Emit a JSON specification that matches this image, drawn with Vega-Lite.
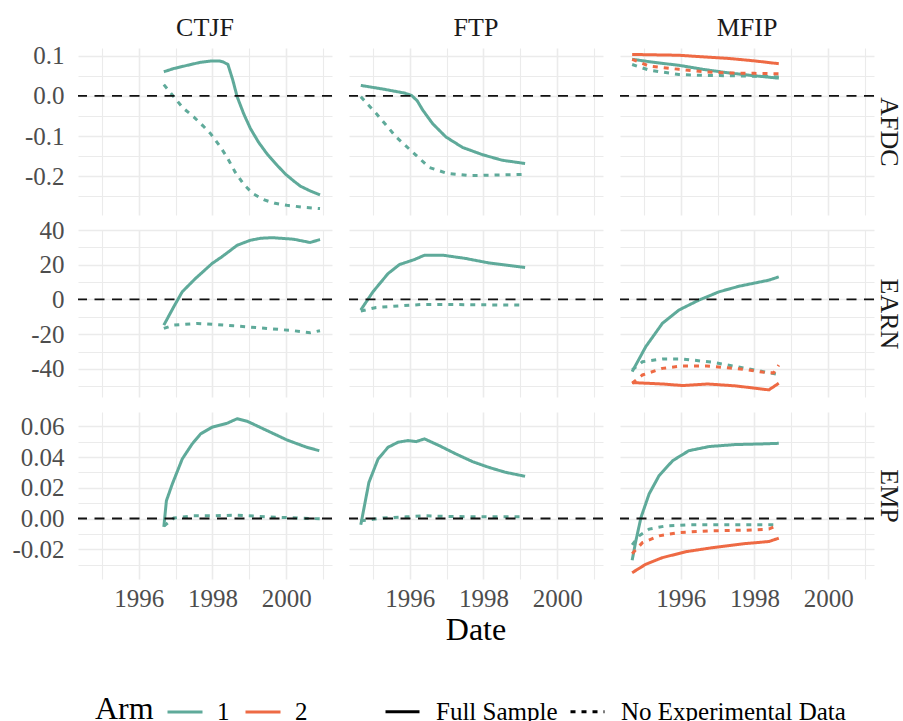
{
  "$schema": "https://vega.github.io/schema/vega-lite/v6.json",
  "padding": {"left": 11, "top": 15, "right": 0, "bottom": 0},
  "background": "#ffffff",
  "spacing": 3,
  "config": {
    "font": "Liberation Serif",
    "locale": {"number": {"decimal": ".", "thousands": ",", "grouping": [3], "currency": ["$", ""], "minus": "-"}},
    "view": {"stroke": null},
    "axis": {
      "grid": true,
      "gridColor": "#ebebeb",
      "domain": false,
      "ticks": false,
      "labelFont": "Liberation Serif",
      "labelFontSize": 25,
      "labelColor": "#4d4d4d",
      "labelOverlap": false,
      "labelFlush": false,
      "titleFont": "Liberation Serif",
      "titleFontSize": 32,
      "titleFontWeight": "normal",
      "titleColor": "#000000"
    },
    "header": {
      "labelFont": "Liberation Serif",
      "labelFontSize": 26,
      "labelColor": "#1a1a1a",
      "titleFont": "Liberation Serif",
      "titleFontSize": 32,
      "titleFontWeight": "normal",
      "titleColor": "#000000"
    },
    "legend": {
      "labelFont": "Liberation Serif",
      "labelFontSize": 25,
      "labelColor": "#000000",
      "labelLimit": 400,
      "titleFont": "Liberation Serif",
      "titleFontSize": 32,
      "titleFontWeight": "normal",
      "titleColor": "#000000"
    }
  },
  "datasets": {
    "series": [
      {"program": "CTJF", "measure": "AFDC", "arm": "1", "sample": "Full Sample", "date": 1996.68, "value": 0.060},
      {"program": "CTJF", "measure": "AFDC", "arm": "1", "sample": "Full Sample", "date": 1996.95, "value": 0.068},
      {"program": "CTJF", "measure": "AFDC", "arm": "1", "sample": "Full Sample", "date": 1997.32, "value": 0.076},
      {"program": "CTJF", "measure": "AFDC", "arm": "1", "sample": "Full Sample", "date": 1997.65, "value": 0.083},
      {"program": "CTJF", "measure": "AFDC", "arm": "1", "sample": "Full Sample", "date": 1997.99, "value": 0.087},
      {"program": "CTJF", "measure": "AFDC", "arm": "1", "sample": "Full Sample", "date": 1998.17, "value": 0.087},
      {"program": "CTJF", "measure": "AFDC", "arm": "1", "sample": "Full Sample", "date": 1998.30, "value": 0.084},
      {"program": "CTJF", "measure": "AFDC", "arm": "1", "sample": "Full Sample", "date": 1998.42, "value": 0.078},
      {"program": "CTJF", "measure": "AFDC", "arm": "1", "sample": "Full Sample", "date": 1998.55, "value": 0.040},
      {"program": "CTJF", "measure": "AFDC", "arm": "1", "sample": "Full Sample", "date": 1998.67, "value": -0.002},
      {"program": "CTJF", "measure": "AFDC", "arm": "1", "sample": "Full Sample", "date": 1998.85, "value": -0.045},
      {"program": "CTJF", "measure": "AFDC", "arm": "1", "sample": "Full Sample", "date": 1999.03, "value": -0.081},
      {"program": "CTJF", "measure": "AFDC", "arm": "1", "sample": "Full Sample", "date": 1999.25, "value": -0.115},
      {"program": "CTJF", "measure": "AFDC", "arm": "1", "sample": "Full Sample", "date": 1999.48, "value": -0.144},
      {"program": "CTJF", "measure": "AFDC", "arm": "1", "sample": "Full Sample", "date": 1999.75, "value": -0.172},
      {"program": "CTJF", "measure": "AFDC", "arm": "1", "sample": "Full Sample", "date": 1999.99, "value": -0.195},
      {"program": "CTJF", "measure": "AFDC", "arm": "1", "sample": "Full Sample", "date": 2000.20, "value": -0.211},
      {"program": "CTJF", "measure": "AFDC", "arm": "1", "sample": "Full Sample", "date": 2000.38, "value": -0.224},
      {"program": "CTJF", "measure": "AFDC", "arm": "1", "sample": "Full Sample", "date": 2000.65, "value": -0.236},
      {"program": "CTJF", "measure": "AFDC", "arm": "1", "sample": "Full Sample", "date": 2000.92, "value": -0.246},

      {"program": "CTJF", "measure": "AFDC", "arm": "1", "sample": "No Experimental Data", "date": 1996.68, "value": 0.028},
      {"program": "CTJF", "measure": "AFDC", "arm": "1", "sample": "No Experimental Data", "date": 1996.95, "value": -0.002},
      {"program": "CTJF", "measure": "AFDC", "arm": "1", "sample": "No Experimental Data", "date": 1997.20, "value": -0.030},
      {"program": "CTJF", "measure": "AFDC", "arm": "1", "sample": "No Experimental Data", "date": 1997.49, "value": -0.052},
      {"program": "CTJF", "measure": "AFDC", "arm": "1", "sample": "No Experimental Data", "date": 1997.75, "value": -0.075},
      {"program": "CTJF", "measure": "AFDC", "arm": "1", "sample": "No Experimental Data", "date": 1997.95, "value": -0.094},
      {"program": "CTJF", "measure": "AFDC", "arm": "1", "sample": "No Experimental Data", "date": 1998.20, "value": -0.125},
      {"program": "CTJF", "measure": "AFDC", "arm": "1", "sample": "No Experimental Data", "date": 1998.40, "value": -0.153},
      {"program": "CTJF", "measure": "AFDC", "arm": "1", "sample": "No Experimental Data", "date": 1998.62, "value": -0.190},
      {"program": "CTJF", "measure": "AFDC", "arm": "1", "sample": "No Experimental Data", "date": 1998.85, "value": -0.220},
      {"program": "CTJF", "measure": "AFDC", "arm": "1", "sample": "No Experimental Data", "date": 1999.10, "value": -0.243},
      {"program": "CTJF", "measure": "AFDC", "arm": "1", "sample": "No Experimental Data", "date": 1999.39, "value": -0.258},
      {"program": "CTJF", "measure": "AFDC", "arm": "1", "sample": "No Experimental Data", "date": 1999.70, "value": -0.267},
      {"program": "CTJF", "measure": "AFDC", "arm": "1", "sample": "No Experimental Data", "date": 2000.02, "value": -0.272},
      {"program": "CTJF", "measure": "AFDC", "arm": "1", "sample": "No Experimental Data", "date": 2000.50, "value": -0.277},
      {"program": "CTJF", "measure": "AFDC", "arm": "1", "sample": "No Experimental Data", "date": 2000.92, "value": -0.280},

      {"program": "FTP", "measure": "AFDC", "arm": "1", "sample": "Full Sample", "date": 1994.67, "value": 0.026},
      {"program": "FTP", "measure": "AFDC", "arm": "1", "sample": "Full Sample", "date": 1995.27, "value": 0.017},
      {"program": "FTP", "measure": "AFDC", "arm": "1", "sample": "Full Sample", "date": 1995.86, "value": 0.007},
      {"program": "FTP", "measure": "AFDC", "arm": "1", "sample": "Full Sample", "date": 1996.05, "value": 0.001},
      {"program": "FTP", "measure": "AFDC", "arm": "1", "sample": "Full Sample", "date": 1996.20, "value": -0.012},
      {"program": "FTP", "measure": "AFDC", "arm": "1", "sample": "Full Sample", "date": 1996.35, "value": -0.035},
      {"program": "FTP", "measure": "AFDC", "arm": "1", "sample": "Full Sample", "date": 1996.62, "value": -0.069},
      {"program": "FTP", "measure": "AFDC", "arm": "1", "sample": "Full Sample", "date": 1996.98, "value": -0.102},
      {"program": "FTP", "measure": "AFDC", "arm": "1", "sample": "Full Sample", "date": 1997.43, "value": -0.128},
      {"program": "FTP", "measure": "AFDC", "arm": "1", "sample": "Full Sample", "date": 1997.97, "value": -0.146},
      {"program": "FTP", "measure": "AFDC", "arm": "1", "sample": "Full Sample", "date": 1998.51, "value": -0.160},
      {"program": "FTP", "measure": "AFDC", "arm": "1", "sample": "Full Sample", "date": 1999.13, "value": -0.168},

      {"program": "FTP", "measure": "AFDC", "arm": "1", "sample": "No Experimental Data", "date": 1994.67, "value": -0.002},
      {"program": "FTP", "measure": "AFDC", "arm": "1", "sample": "No Experimental Data", "date": 1995.09, "value": -0.044},
      {"program": "FTP", "measure": "AFDC", "arm": "1", "sample": "No Experimental Data", "date": 1995.63, "value": -0.102},
      {"program": "FTP", "measure": "AFDC", "arm": "1", "sample": "No Experimental Data", "date": 1996.08, "value": -0.140},
      {"program": "FTP", "measure": "AFDC", "arm": "1", "sample": "No Experimental Data", "date": 1996.53, "value": -0.178},
      {"program": "FTP", "measure": "AFDC", "arm": "1", "sample": "No Experimental Data", "date": 1997.03, "value": -0.193},
      {"program": "FTP", "measure": "AFDC", "arm": "1", "sample": "No Experimental Data", "date": 1997.61, "value": -0.198},
      {"program": "FTP", "measure": "AFDC", "arm": "1", "sample": "No Experimental Data", "date": 1998.24, "value": -0.197},
      {"program": "FTP", "measure": "AFDC", "arm": "1", "sample": "No Experimental Data", "date": 1999.13, "value": -0.195},

      {"program": "MFIP", "measure": "AFDC", "arm": "1", "sample": "Full Sample", "date": 1994.68, "value": 0.091},
      {"program": "MFIP", "measure": "AFDC", "arm": "1", "sample": "Full Sample", "date": 1995.30, "value": 0.083},
      {"program": "MFIP", "measure": "AFDC", "arm": "1", "sample": "Full Sample", "date": 1995.95, "value": 0.076},
      {"program": "MFIP", "measure": "AFDC", "arm": "1", "sample": "Full Sample", "date": 1996.60, "value": 0.066},
      {"program": "MFIP", "measure": "AFDC", "arm": "1", "sample": "Full Sample", "date": 1997.31, "value": 0.057},
      {"program": "MFIP", "measure": "AFDC", "arm": "1", "sample": "Full Sample", "date": 1998.00, "value": 0.050},
      {"program": "MFIP", "measure": "AFDC", "arm": "1", "sample": "Full Sample", "date": 1998.66, "value": 0.044},
      {"program": "MFIP", "measure": "AFDC", "arm": "1", "sample": "No Experimental Data", "date": 1994.68, "value": 0.078},
      {"program": "MFIP", "measure": "AFDC", "arm": "1", "sample": "No Experimental Data", "date": 1995.14, "value": 0.064},
      {"program": "MFIP", "measure": "AFDC", "arm": "1", "sample": "No Experimental Data", "date": 1995.95, "value": 0.053},
      {"program": "MFIP", "measure": "AFDC", "arm": "1", "sample": "No Experimental Data", "date": 1996.60, "value": 0.051},
      {"program": "MFIP", "measure": "AFDC", "arm": "1", "sample": "No Experimental Data", "date": 1997.31, "value": 0.050},
      {"program": "MFIP", "measure": "AFDC", "arm": "1", "sample": "No Experimental Data", "date": 1998.00, "value": 0.049},
      {"program": "MFIP", "measure": "AFDC", "arm": "1", "sample": "No Experimental Data", "date": 1998.66, "value": 0.047},
      {"program": "MFIP", "measure": "AFDC", "arm": "2", "sample": "Full Sample", "date": 1994.68, "value": 0.103},
      {"program": "MFIP", "measure": "AFDC", "arm": "2", "sample": "Full Sample", "date": 1995.30, "value": 0.102},
      {"program": "MFIP", "measure": "AFDC", "arm": "2", "sample": "Full Sample", "date": 1995.95, "value": 0.101},
      {"program": "MFIP", "measure": "AFDC", "arm": "2", "sample": "Full Sample", "date": 1996.60, "value": 0.097},
      {"program": "MFIP", "measure": "AFDC", "arm": "2", "sample": "Full Sample", "date": 1997.31, "value": 0.093},
      {"program": "MFIP", "measure": "AFDC", "arm": "2", "sample": "Full Sample", "date": 1998.00, "value": 0.087},
      {"program": "MFIP", "measure": "AFDC", "arm": "2", "sample": "Full Sample", "date": 1998.66, "value": 0.080},
      {"program": "MFIP", "measure": "AFDC", "arm": "2", "sample": "No Experimental Data", "date": 1994.68, "value": 0.091},
      {"program": "MFIP", "measure": "AFDC", "arm": "2", "sample": "No Experimental Data", "date": 1995.14, "value": 0.074},
      {"program": "MFIP", "measure": "AFDC", "arm": "2", "sample": "No Experimental Data", "date": 1995.95, "value": 0.066},
      {"program": "MFIP", "measure": "AFDC", "arm": "2", "sample": "No Experimental Data", "date": 1996.60, "value": 0.060},
      {"program": "MFIP", "measure": "AFDC", "arm": "2", "sample": "No Experimental Data", "date": 1997.31, "value": 0.057},
      {"program": "MFIP", "measure": "AFDC", "arm": "2", "sample": "No Experimental Data", "date": 1998.00, "value": 0.056},
      {"program": "MFIP", "measure": "AFDC", "arm": "2", "sample": "No Experimental Data", "date": 1998.66, "value": 0.055},

      {"program": "CTJF", "measure": "EARN", "arm": "1", "sample": "Full Sample", "date": 1996.68, "value": -14.8},
      {"program": "CTJF", "measure": "EARN", "arm": "1", "sample": "Full Sample", "date": 1996.95, "value": -4.2},
      {"program": "CTJF", "measure": "EARN", "arm": "1", "sample": "Full Sample", "date": 1997.18, "value": 4.4},
      {"program": "CTJF", "measure": "EARN", "arm": "1", "sample": "Full Sample", "date": 1997.54, "value": 12.1},
      {"program": "CTJF", "measure": "EARN", "arm": "1", "sample": "Full Sample", "date": 1997.99, "value": 20.7},
      {"program": "CTJF", "measure": "EARN", "arm": "1", "sample": "Full Sample", "date": 1998.25, "value": 24.5},
      {"program": "CTJF", "measure": "EARN", "arm": "1", "sample": "Full Sample", "date": 1998.44, "value": 27.5},
      {"program": "CTJF", "measure": "EARN", "arm": "1", "sample": "Full Sample", "date": 1998.67, "value": 31.2},
      {"program": "CTJF", "measure": "EARN", "arm": "1", "sample": "Full Sample", "date": 1999.03, "value": 34.1},
      {"program": "CTJF", "measure": "EARN", "arm": "1", "sample": "Full Sample", "date": 1999.30, "value": 35.2},
      {"program": "CTJF", "measure": "EARN", "arm": "1", "sample": "Full Sample", "date": 1999.61, "value": 35.6},
      {"program": "CTJF", "measure": "EARN", "arm": "1", "sample": "Full Sample", "date": 2000.20, "value": 34.7},
      {"program": "CTJF", "measure": "EARN", "arm": "1", "sample": "Full Sample", "date": 2000.65, "value": 32.8},
      {"program": "CTJF", "measure": "EARN", "arm": "1", "sample": "Full Sample", "date": 2000.92, "value": 34.5},
      {"program": "CTJF", "measure": "EARN", "arm": "1", "sample": "No Experimental Data", "date": 1996.68, "value": -16.7},
      {"program": "CTJF", "measure": "EARN", "arm": "1", "sample": "No Experimental Data", "date": 1996.95, "value": -14.8},
      {"program": "CTJF", "measure": "EARN", "arm": "1", "sample": "No Experimental Data", "date": 1997.59, "value": -13.8},
      {"program": "CTJF", "measure": "EARN", "arm": "1", "sample": "No Experimental Data", "date": 1998.03, "value": -14.4},
      {"program": "CTJF", "measure": "EARN", "arm": "1", "sample": "No Experimental Data", "date": 1998.57, "value": -15.2},
      {"program": "CTJF", "measure": "EARN", "arm": "1", "sample": "No Experimental Data", "date": 1999.48, "value": -16.7},
      {"program": "CTJF", "measure": "EARN", "arm": "1", "sample": "No Experimental Data", "date": 2000.20, "value": -18.0},
      {"program": "CTJF", "measure": "EARN", "arm": "1", "sample": "No Experimental Data", "date": 2000.65, "value": -19.2},
      {"program": "CTJF", "measure": "EARN", "arm": "1", "sample": "No Experimental Data", "date": 2000.92, "value": -18.0},

      {"program": "FTP", "measure": "EARN", "arm": "1", "sample": "Full Sample", "date": 1994.67, "value": -6.1},
      {"program": "FTP", "measure": "EARN", "arm": "1", "sample": "Full Sample", "date": 1995.00, "value": 4.4},
      {"program": "FTP", "measure": "EARN", "arm": "1", "sample": "Full Sample", "date": 1995.41, "value": 14.9},
      {"program": "FTP", "measure": "EARN", "arm": "1", "sample": "Full Sample", "date": 1995.72, "value": 20.1},
      {"program": "FTP", "measure": "EARN", "arm": "1", "sample": "Full Sample", "date": 1996.13, "value": 23.0},
      {"program": "FTP", "measure": "EARN", "arm": "1", "sample": "Full Sample", "date": 1996.40, "value": 25.5},
      {"program": "FTP", "measure": "EARN", "arm": "1", "sample": "Full Sample", "date": 1996.89, "value": 25.5},
      {"program": "FTP", "measure": "EARN", "arm": "1", "sample": "Full Sample", "date": 1997.52, "value": 23.6},
      {"program": "FTP", "measure": "EARN", "arm": "1", "sample": "Full Sample", "date": 1998.15, "value": 21.0},
      {"program": "FTP", "measure": "EARN", "arm": "1", "sample": "Full Sample", "date": 1999.13, "value": 18.4},
      {"program": "FTP", "measure": "EARN", "arm": "1", "sample": "No Experimental Data", "date": 1994.67, "value": -6.7},
      {"program": "FTP", "measure": "EARN", "arm": "1", "sample": "No Experimental Data", "date": 1995.09, "value": -4.6},
      {"program": "FTP", "measure": "EARN", "arm": "1", "sample": "No Experimental Data", "date": 1995.72, "value": -3.7},
      {"program": "FTP", "measure": "EARN", "arm": "1", "sample": "No Experimental Data", "date": 1996.35, "value": -2.9},
      {"program": "FTP", "measure": "EARN", "arm": "1", "sample": "No Experimental Data", "date": 1997.07, "value": -2.9},
      {"program": "FTP", "measure": "EARN", "arm": "1", "sample": "No Experimental Data", "date": 1997.97, "value": -3.1},
      {"program": "FTP", "measure": "EARN", "arm": "1", "sample": "No Experimental Data", "date": 1999.13, "value": -3.3},

      {"program": "MFIP", "measure": "EARN", "arm": "1", "sample": "Full Sample", "date": 1994.68, "value": -41.6},
      {"program": "MFIP", "measure": "EARN", "arm": "1", "sample": "Full Sample", "date": 1995.05, "value": -27.2},
      {"program": "MFIP", "measure": "EARN", "arm": "1", "sample": "Full Sample", "date": 1995.50, "value": -13.8},
      {"program": "MFIP", "measure": "EARN", "arm": "1", "sample": "Full Sample", "date": 1995.95, "value": -6.1},
      {"program": "MFIP", "measure": "EARN", "arm": "1", "sample": "Full Sample", "date": 1996.49, "value": -0.4},
      {"program": "MFIP", "measure": "EARN", "arm": "1", "sample": "Full Sample", "date": 1997.04, "value": 4.4},
      {"program": "MFIP", "measure": "EARN", "arm": "1", "sample": "Full Sample", "date": 1997.58, "value": 7.6},
      {"program": "MFIP", "measure": "EARN", "arm": "1", "sample": "Full Sample", "date": 1998.39, "value": 11.1},
      {"program": "MFIP", "measure": "EARN", "arm": "1", "sample": "Full Sample", "date": 1998.66, "value": 13.0},
      {"program": "MFIP", "measure": "EARN", "arm": "1", "sample": "No Experimental Data", "date": 1994.68, "value": -40.6},
      {"program": "MFIP", "measure": "EARN", "arm": "1", "sample": "No Experimental Data", "date": 1994.96, "value": -35.9},
      {"program": "MFIP", "measure": "EARN", "arm": "1", "sample": "No Experimental Data", "date": 1995.50, "value": -34.3},
      {"program": "MFIP", "measure": "EARN", "arm": "1", "sample": "No Experimental Data", "date": 1996.05, "value": -34.3},
      {"program": "MFIP", "measure": "EARN", "arm": "1", "sample": "No Experimental Data", "date": 1996.86, "value": -36.2},
      {"program": "MFIP", "measure": "EARN", "arm": "1", "sample": "No Experimental Data", "date": 1997.76, "value": -39.7},
      {"program": "MFIP", "measure": "EARN", "arm": "1", "sample": "No Experimental Data", "date": 1998.39, "value": -42.2},
      {"program": "MFIP", "measure": "EARN", "arm": "1", "sample": "No Experimental Data", "date": 1998.61, "value": -43.1},
      {"program": "MFIP", "measure": "EARN", "arm": "1", "sample": "No Experimental Data", "date": 1998.66, "value": -44.5},
      {"program": "MFIP", "measure": "EARN", "arm": "2", "sample": "Full Sample", "date": 1994.68, "value": -47.9},
      {"program": "MFIP", "measure": "EARN", "arm": "2", "sample": "Full Sample", "date": 1995.50, "value": -48.7},
      {"program": "MFIP", "measure": "EARN", "arm": "2", "sample": "Full Sample", "date": 1996.05, "value": -49.6},
      {"program": "MFIP", "measure": "EARN", "arm": "2", "sample": "Full Sample", "date": 1996.73, "value": -48.7},
      {"program": "MFIP", "measure": "EARN", "arm": "2", "sample": "Full Sample", "date": 1997.49, "value": -49.8},
      {"program": "MFIP", "measure": "EARN", "arm": "2", "sample": "Full Sample", "date": 1998.39, "value": -52.1},
      {"program": "MFIP", "measure": "EARN", "arm": "2", "sample": "Full Sample", "date": 1998.66, "value": -48.3},
      {"program": "MFIP", "measure": "EARN", "arm": "2", "sample": "No Experimental Data", "date": 1994.68, "value": -48.3},
      {"program": "MFIP", "measure": "EARN", "arm": "2", "sample": "No Experimental Data", "date": 1994.96, "value": -43.5},
      {"program": "MFIP", "measure": "EARN", "arm": "2", "sample": "No Experimental Data", "date": 1995.50, "value": -39.7},
      {"program": "MFIP", "measure": "EARN", "arm": "2", "sample": "No Experimental Data", "date": 1996.05, "value": -38.3},
      {"program": "MFIP", "measure": "EARN", "arm": "2", "sample": "No Experimental Data", "date": 1996.70, "value": -38.3},
      {"program": "MFIP", "measure": "EARN", "arm": "2", "sample": "No Experimental Data", "date": 1997.70, "value": -40.2},
      {"program": "MFIP", "measure": "EARN", "arm": "2", "sample": "No Experimental Data", "date": 1998.30, "value": -42.1},
      {"program": "MFIP", "measure": "EARN", "arm": "2", "sample": "No Experimental Data", "date": 1998.52, "value": -42.3},
      {"program": "MFIP", "measure": "EARN", "arm": "2", "sample": "No Experimental Data", "date": 1998.66, "value": -37.8},

      {"program": "CTJF", "measure": "EMP", "arm": "1", "sample": "Full Sample", "date": 1996.68, "value": -0.0054},
      {"program": "CTJF", "measure": "EMP", "arm": "1", "sample": "Full Sample", "date": 1996.75, "value": 0.0116},
      {"program": "CTJF", "measure": "EMP", "arm": "1", "sample": "Full Sample", "date": 1996.91, "value": 0.0225},
      {"program": "CTJF", "measure": "EMP", "arm": "1", "sample": "Full Sample", "date": 1997.18, "value": 0.0388},
      {"program": "CTJF", "measure": "EMP", "arm": "1", "sample": "Full Sample", "date": 1997.45, "value": 0.0486},
      {"program": "CTJF", "measure": "EMP", "arm": "1", "sample": "Full Sample", "date": 1997.68, "value": 0.0552},
      {"program": "CTJF", "measure": "EMP", "arm": "1", "sample": "Full Sample", "date": 1997.99, "value": 0.0595},
      {"program": "CTJF", "measure": "EMP", "arm": "1", "sample": "Full Sample", "date": 1998.40, "value": 0.0621},
      {"program": "CTJF", "measure": "EMP", "arm": "1", "sample": "Full Sample", "date": 1998.67, "value": 0.0650},
      {"program": "CTJF", "measure": "EMP", "arm": "1", "sample": "Full Sample", "date": 1998.94, "value": 0.0634},
      {"program": "CTJF", "measure": "EMP", "arm": "1", "sample": "Full Sample", "date": 1999.48, "value": 0.0573},
      {"program": "CTJF", "measure": "EMP", "arm": "1", "sample": "Full Sample", "date": 2000.02, "value": 0.0512},
      {"program": "CTJF", "measure": "EMP", "arm": "1", "sample": "Full Sample", "date": 2000.56, "value": 0.0464},
      {"program": "CTJF", "measure": "EMP", "arm": "1", "sample": "Full Sample", "date": 2000.90, "value": 0.0442},
      {"program": "CTJF", "measure": "EMP", "arm": "1", "sample": "No Experimental Data", "date": 1996.68, "value": -0.0050},
      {"program": "CTJF", "measure": "EMP", "arm": "1", "sample": "No Experimental Data", "date": 1996.95, "value": 0.0003},
      {"program": "CTJF", "measure": "EMP", "arm": "1", "sample": "No Experimental Data", "date": 1997.49, "value": 0.0018},
      {"program": "CTJF", "measure": "EMP", "arm": "1", "sample": "No Experimental Data", "date": 1998.03, "value": 0.0018},
      {"program": "CTJF", "measure": "EMP", "arm": "1", "sample": "No Experimental Data", "date": 1998.67, "value": 0.0022},
      {"program": "CTJF", "measure": "EMP", "arm": "1", "sample": "No Experimental Data", "date": 1999.48, "value": 0.0011},
      {"program": "CTJF", "measure": "EMP", "arm": "1", "sample": "No Experimental Data", "date": 2000.38, "value": 0.0003},
      {"program": "CTJF", "measure": "EMP", "arm": "1", "sample": "No Experimental Data", "date": 2000.92, "value": -0.0002},

      {"program": "FTP", "measure": "EMP", "arm": "1", "sample": "Full Sample", "date": 1994.67, "value": -0.0041},
      {"program": "FTP", "measure": "EMP", "arm": "1", "sample": "Full Sample", "date": 1994.89, "value": 0.0235},
      {"program": "FTP", "measure": "EMP", "arm": "1", "sample": "Full Sample", "date": 1995.14, "value": 0.0388},
      {"program": "FTP", "measure": "EMP", "arm": "1", "sample": "Full Sample", "date": 1995.41, "value": 0.0464},
      {"program": "FTP", "measure": "EMP", "arm": "1", "sample": "Full Sample", "date": 1995.68, "value": 0.0497},
      {"program": "FTP", "measure": "EMP", "arm": "1", "sample": "Full Sample", "date": 1995.95, "value": 0.0508},
      {"program": "FTP", "measure": "EMP", "arm": "1", "sample": "Full Sample", "date": 1996.17, "value": 0.0501},
      {"program": "FTP", "measure": "EMP", "arm": "1", "sample": "Full Sample", "date": 1996.40, "value": 0.0519},
      {"program": "FTP", "measure": "EMP", "arm": "1", "sample": "Full Sample", "date": 1996.80, "value": 0.0475},
      {"program": "FTP", "measure": "EMP", "arm": "1", "sample": "Full Sample", "date": 1997.25, "value": 0.0421},
      {"program": "FTP", "measure": "EMP", "arm": "1", "sample": "Full Sample", "date": 1997.70, "value": 0.0371},
      {"program": "FTP", "measure": "EMP", "arm": "1", "sample": "Full Sample", "date": 1998.15, "value": 0.0333},
      {"program": "FTP", "measure": "EMP", "arm": "1", "sample": "Full Sample", "date": 1998.60, "value": 0.0301},
      {"program": "FTP", "measure": "EMP", "arm": "1", "sample": "Full Sample", "date": 1999.13, "value": 0.0275},
      {"program": "FTP", "measure": "EMP", "arm": "1", "sample": "No Experimental Data", "date": 1994.67, "value": -0.0015},
      {"program": "FTP", "measure": "EMP", "arm": "1", "sample": "No Experimental Data", "date": 1995.27, "value": 0.0003},
      {"program": "FTP", "measure": "EMP", "arm": "1", "sample": "No Experimental Data", "date": 1995.90, "value": 0.0011},
      {"program": "FTP", "measure": "EMP", "arm": "1", "sample": "No Experimental Data", "date": 1996.40, "value": 0.0018},
      {"program": "FTP", "measure": "EMP", "arm": "1", "sample": "No Experimental Data", "date": 1997.07, "value": 0.0013},
      {"program": "FTP", "measure": "EMP", "arm": "1", "sample": "No Experimental Data", "date": 1997.97, "value": 0.0011},
      {"program": "FTP", "measure": "EMP", "arm": "1", "sample": "No Experimental Data", "date": 1999.13, "value": 0.0011},

      {"program": "MFIP", "measure": "EMP", "arm": "1", "sample": "Full Sample", "date": 1994.68, "value": -0.0272},
      {"program": "MFIP", "measure": "EMP", "arm": "1", "sample": "Full Sample", "date": 1994.78, "value": -0.0146},
      {"program": "MFIP", "measure": "EMP", "arm": "1", "sample": "Full Sample", "date": 1994.92, "value": 0.0007},
      {"program": "MFIP", "measure": "EMP", "arm": "1", "sample": "Full Sample", "date": 1995.14, "value": 0.0160},
      {"program": "MFIP", "measure": "EMP", "arm": "1", "sample": "Full Sample", "date": 1995.41, "value": 0.0279},
      {"program": "MFIP", "measure": "EMP", "arm": "1", "sample": "Full Sample", "date": 1995.78, "value": 0.0377},
      {"program": "MFIP", "measure": "EMP", "arm": "1", "sample": "Full Sample", "date": 1996.22, "value": 0.0442},
      {"program": "MFIP", "measure": "EMP", "arm": "1", "sample": "Full Sample", "date": 1996.77, "value": 0.0469},
      {"program": "MFIP", "measure": "EMP", "arm": "1", "sample": "Full Sample", "date": 1997.49, "value": 0.0482},
      {"program": "MFIP", "measure": "EMP", "arm": "1", "sample": "Full Sample", "date": 1998.21, "value": 0.0486},
      {"program": "MFIP", "measure": "EMP", "arm": "1", "sample": "Full Sample", "date": 1998.66, "value": 0.0490},
      {"program": "MFIP", "measure": "EMP", "arm": "1", "sample": "No Experimental Data", "date": 1994.68, "value": -0.0172},
      {"program": "MFIP", "measure": "EMP", "arm": "1", "sample": "No Experimental Data", "date": 1994.87, "value": -0.0113},
      {"program": "MFIP", "measure": "EMP", "arm": "1", "sample": "No Experimental Data", "date": 1995.14, "value": -0.0069},
      {"program": "MFIP", "measure": "EMP", "arm": "1", "sample": "No Experimental Data", "date": 1995.60, "value": -0.0048},
      {"program": "MFIP", "measure": "EMP", "arm": "1", "sample": "No Experimental Data", "date": 1996.22, "value": -0.0041},
      {"program": "MFIP", "measure": "EMP", "arm": "1", "sample": "No Experimental Data", "date": 1997.31, "value": -0.0041},
      {"program": "MFIP", "measure": "EMP", "arm": "1", "sample": "No Experimental Data", "date": 1998.66, "value": -0.0041},
      {"program": "MFIP", "measure": "EMP", "arm": "2", "sample": "Full Sample", "date": 1994.68, "value": -0.0353},
      {"program": "MFIP", "measure": "EMP", "arm": "2", "sample": "Full Sample", "date": 1995.05, "value": -0.0298},
      {"program": "MFIP", "measure": "EMP", "arm": "2", "sample": "Full Sample", "date": 1995.50, "value": -0.0255},
      {"program": "MFIP", "measure": "EMP", "arm": "2", "sample": "Full Sample", "date": 1996.14, "value": -0.0216},
      {"program": "MFIP", "measure": "EMP", "arm": "2", "sample": "Full Sample", "date": 1996.86, "value": -0.0190},
      {"program": "MFIP", "measure": "EMP", "arm": "2", "sample": "Full Sample", "date": 1997.76, "value": -0.0163},
      {"program": "MFIP", "measure": "EMP", "arm": "2", "sample": "Full Sample", "date": 1998.39, "value": -0.0150},
      {"program": "MFIP", "measure": "EMP", "arm": "2", "sample": "Full Sample", "date": 1998.66, "value": -0.0128},
      {"program": "MFIP", "measure": "EMP", "arm": "2", "sample": "No Experimental Data", "date": 1994.68, "value": -0.0229},
      {"program": "MFIP", "measure": "EMP", "arm": "2", "sample": "No Experimental Data", "date": 1994.96, "value": -0.0157},
      {"program": "MFIP", "measure": "EMP", "arm": "2", "sample": "No Experimental Data", "date": 1995.41, "value": -0.0113},
      {"program": "MFIP", "measure": "EMP", "arm": "2", "sample": "No Experimental Data", "date": 1995.95, "value": -0.0091},
      {"program": "MFIP", "measure": "EMP", "arm": "2", "sample": "No Experimental Data", "date": 1996.86, "value": -0.0080},
      {"program": "MFIP", "measure": "EMP", "arm": "2", "sample": "No Experimental Data", "date": 1997.76, "value": -0.0076},
      {"program": "MFIP", "measure": "EMP", "arm": "2", "sample": "No Experimental Data", "date": 1998.39, "value": -0.0069},
      {"program": "MFIP", "measure": "EMP", "arm": "2", "sample": "No Experimental Data", "date": 1998.66, "value": -0.0041}
    ]
  },
  "vconcat": [
    {
      "data": {"name": "series"},
      "transform": [{"filter": "datum.measure === 'AFDC'"}],
      "facet": {
        "column": {"field": "program", "type": "nominal", "title": null, "header": {"labelPadding": 7}}
      },
      "spacing": 15,
      "spec": {
        "width": 254,
        "height": 167,
        "resolve": {"axis": {"y": "independent"}},
        "layer": [
          {
            "mark": {"type": "line", "strokeWidth": 3},
            "encoding": {
              "x": {"field": "date", "type": "quantitative", "scale": {"domain": [1994.35, 2001.245], "nice": false, "zero": false},
                    "axis": {"values": [1995, 1996, 1997, 1998, 1999, 2000, 2001], "labels": false, "title": null, "minExtent": 0, "maxExtent": 0,
                             "gridWidth": {"condition": {"test": "datum.value % 2 === 0", "value": 1.6}, "value": 1.1}}},
              "y": {"field": "value", "type": "quantitative", "scale": {"domain": [-0.296, 0.119], "nice": false, "zero": false},
                    "axis": {"values": [-0.25, -0.2, -0.15, -0.1, -0.05, 0, 0.05, 0.1], "format": ".1f", "title": null, "labelPadding": 13, "minExtent": 66, "maxExtent": 66,
                             "labelExpr": "round(datum.value * 100) % 10 === 0 ? datum.label : ''",
                             "gridWidth": {"condition": {"test": "round(datum.value * 100) % 10 === 0", "value": 1.6}, "value": 1.1}}},
              "color": {"field": "arm", "type": "nominal", "scale": {"domain": ["1", "2"], "range": ["#5faa9a", "#ee6a44"]},
                        "legend": {"title": "Arm", "orient": "none", "legendX": 17, "legendY": 645, "direction": "horizontal", "titleOrient": "left", "titlePadding": 12, "symbolType": "stroke", "symbolSize": 1225, "symbolStrokeWidth": 3, "labelOffset": 13, "columnPadding": 9}},
              "strokeDash": {"field": "sample", "type": "nominal", "scale": {"domain": ["Full Sample", "No Experimental Data"], "range": [[1, 0], [5, 6]]},
                             "legend": {"title": null, "orient": "none", "legendX": 306, "legendY": 645, "direction": "horizontal", "symbolType": "stroke", "symbolSize": 1156, "symbolStrokeWidth": 3, "symbolStrokeColor": "#000000", "labelOffset": 15, "columnPadding": 6}}
            }
          },
          {
            "transform": [{"aggregate": [{"op": "count", "as": "n"}], "groupby": ["program"]}],
            "mark": {"type": "rule", "color": "#111111", "strokeWidth": 1.8, "strokeDash": [10, 7.5]},
            "encoding": {"y": {"datum": 0, "type": "quantitative",
                               "axis": {"orient": "right", "title": "AFDC", "labels": false, "grid": false, "minExtent": 0, "titleAngle": 90, "titleFontSize": 26, "titleColor": "#1a1a1a", "titlePadding": 0}}}
          }
        ]
      }
    },
    {
      "data": {"name": "series"},
      "transform": [{"filter": "datum.measure === 'EARN'"}],
      "facet": {
        "column": {"field": "program", "type": "nominal", "title": null, "header": {"labels": false}}
      },
      "spacing": 15,
      "spec": {
        "width": 254,
        "height": 167,
        "resolve": {"axis": {"y": "independent"}},
        "layer": [
          {
            "mark": {"type": "line", "strokeWidth": 3},
            "encoding": {
              "x": {"field": "date", "type": "quantitative", "scale": {"domain": [1994.35, 2001.245], "nice": false, "zero": false},
                    "axis": {"values": [1995, 1996, 1997, 1998, 1999, 2000, 2001], "labels": false, "title": null, "minExtent": 11.5, "maxExtent": 11.5,
                             "gridWidth": {"condition": {"test": "datum.value % 2 === 0", "value": 1.6}, "value": 1.1}}},
              "y": {"field": "value", "type": "quantitative", "scale": {"domain": [-56.2, 40.0], "nice": false, "zero": false},
                    "axis": {"values": [-50, -40, -30, -20, -10, 0, 10, 20, 30, 40], "format": "d", "title": null, "labelPadding": 13, "minExtent": 66, "maxExtent": 66,
                             "labelExpr": "datum.value % 20 === 0 ? datum.label : ''",
                             "gridWidth": {"condition": {"test": "datum.value % 20 === 0", "value": 1.6}, "value": 1.1}}},
              "color": {"field": "arm", "type": "nominal", "scale": {"domain": ["1", "2"], "range": ["#5faa9a", "#ee6a44"]},
                        "legend": {"title": "Arm", "orient": "none", "legendX": 17, "legendY": 645, "direction": "horizontal", "titleOrient": "left", "titlePadding": 12, "symbolType": "stroke", "symbolSize": 1225, "symbolStrokeWidth": 3, "labelOffset": 13, "columnPadding": 9}},
              "strokeDash": {"field": "sample", "type": "nominal", "scale": {"domain": ["Full Sample", "No Experimental Data"], "range": [[1, 0], [5, 6]]},
                             "legend": {"title": null, "orient": "none", "legendX": 306, "legendY": 645, "direction": "horizontal", "symbolType": "stroke", "symbolSize": 1156, "symbolStrokeWidth": 3, "symbolStrokeColor": "#000000", "labelOffset": 15, "columnPadding": 6}}
            }
          },
          {
            "transform": [{"aggregate": [{"op": "count", "as": "n"}], "groupby": ["program"]}],
            "mark": {"type": "rule", "color": "#111111", "strokeWidth": 1.8, "strokeDash": [10, 7.5]},
            "encoding": {"y": {"datum": 0, "type": "quantitative",
                               "axis": {"orient": "right", "title": "EARN", "labels": false, "grid": false, "minExtent": 0, "titleAngle": 90, "titleFontSize": 26, "titleColor": "#1a1a1a", "titlePadding": 0}}}
          }
        ]
      }
    },
    {
      "data": {"name": "series"},
      "transform": [{"filter": "datum.measure === 'EMP'"}],
      "facet": {
        "column": {"field": "program", "type": "nominal", "title": "Date", "header": {"labels": false, "titleOrient": "bottom", "titlePadding": -6}}
      },
      "spacing": 15,
      "spec": {
        "width": 254,
        "height": 167,
        "resolve": {"axis": {"y": "independent"}},
        "layer": [
          {
            "mark": {"type": "line", "strokeWidth": 3},
            "encoding": {
              "x": {"field": "date", "type": "quantitative", "scale": {"domain": [1994.35, 2001.245], "nice": false, "zero": false},
                    "axis": {"values": [1995, 1996, 1997, 1998, 1999, 2000, 2001], "format": "d", "title": null, "labelPadding": 7,
                             "labelExpr": "datum.value % 2 === 0 ? datum.label : ''",
                             "gridWidth": {"condition": {"test": "datum.value % 2 === 0", "value": 1.6}, "value": 1.1}}},
              "y": {"field": "value", "type": "quantitative", "scale": {"domain": [-0.0394, 0.0694], "nice": false, "zero": false},
                    "axis": {"values": [-0.03, -0.02, -0.01, 0, 0.01, 0.02, 0.03, 0.04, 0.05, 0.06], "format": ".2f", "title": null, "labelPadding": 13, "minExtent": 66, "maxExtent": 66,
                             "labelExpr": "round(datum.value * 100) % 2 === 0 ? datum.label : ''",
                             "gridWidth": {"condition": {"test": "round(datum.value * 100) % 2 === 0", "value": 1.6}, "value": 1.1}}},
              "color": {"field": "arm", "type": "nominal", "scale": {"domain": ["1", "2"], "range": ["#5faa9a", "#ee6a44"]},
                        "legend": {"title": "Arm", "orient": "none", "legendX": 17, "legendY": 645, "direction": "horizontal", "titleOrient": "left", "titlePadding": 12, "symbolType": "stroke", "symbolSize": 1225, "symbolStrokeWidth": 3, "labelOffset": 13, "columnPadding": 9}},
              "strokeDash": {"field": "sample", "type": "nominal", "scale": {"domain": ["Full Sample", "No Experimental Data"], "range": [[1, 0], [5, 6]]},
                             "legend": {"title": null, "orient": "none", "legendX": 306, "legendY": 645, "direction": "horizontal", "symbolType": "stroke", "symbolSize": 1156, "symbolStrokeWidth": 3, "symbolStrokeColor": "#000000", "labelOffset": 15, "columnPadding": 6}}
            }
          },
          {
            "transform": [{"aggregate": [{"op": "count", "as": "n"}], "groupby": ["program"]}],
            "mark": {"type": "rule", "color": "#111111", "strokeWidth": 1.8, "strokeDash": [10, 7.5]},
            "encoding": {"y": {"datum": 0, "type": "quantitative",
                               "axis": {"orient": "right", "title": "EMP", "labels": false, "grid": false, "minExtent": 0, "titleAngle": 90, "titleFontSize": 26, "titleColor": "#1a1a1a", "titlePadding": 0}}}
          }
        ]
      }
    }
  ],
  "resolve": {"scale": {"color": "shared", "strokeDash": "shared"}}
}
